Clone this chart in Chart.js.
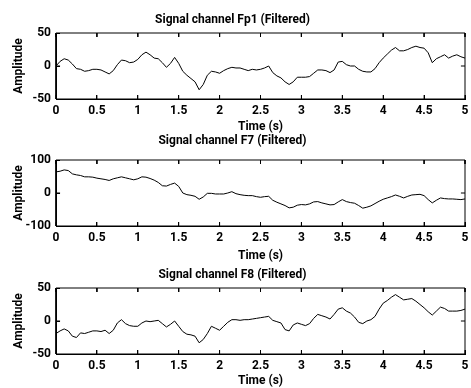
<!DOCTYPE html>
<html lang="en">

<head>
    <meta charset="UTF-8">
    <title>Signal channels (Filtered)</title>
    <script src="https://cdn.jsdelivr.net/npm/chart.js@4.4.1/dist/chart.umd.min.js"></script>
    <style>
        html, body { margin: 0; padding: 0; background: #fff; }
        canvas { display: block; }
    </style>
</head>

<body>
    <canvas id="c1" width="471" height="140"></canvas>
    <canvas id="c2" width="471" height="140" style="margin-top:-13px"></canvas>
    <canvas id="c3" width="471" height="133" style="margin-top:-12px"></canvas>
    <script>
        // time axis (s), one sample every 0.05 s
        const time = [0, 0.05, 0.1, 0.15, 0.2, 0.25, 0.3, 0.35, 0.4, 0.45,
            0.5, 0.55, 0.6, 0.65, 0.7, 0.75, 0.8, 0.85, 0.9, 0.95,
            1, 1.05, 1.1, 1.15, 1.2, 1.25, 1.3, 1.35, 1.4, 1.45,
            1.5, 1.55, 1.6, 1.65, 1.7, 1.75, 1.8, 1.85, 1.9, 1.95,
            2, 2.05, 2.1, 2.15, 2.2, 2.25, 2.3, 2.35, 2.4, 2.45,
            2.5, 2.55, 2.6, 2.65, 2.7, 2.75, 2.8, 2.85, 2.9, 2.95,
            3, 3.05, 3.1, 3.15, 3.2, 3.25, 3.3, 3.35, 3.4, 3.45,
            3.5, 3.55, 3.6, 3.65, 3.7, 3.75, 3.8, 3.85, 3.9, 3.95,
            4, 4.05, 4.1, 4.15, 4.2, 4.25, 4.3, 4.35, 4.4, 4.45,
            4.5, 4.55, 4.6, 4.65, 4.7, 4.75, 4.8, 4.85, 4.9, 4.95, 5];

        const fp1 = [0, 7, 11, 9, 3, -4, -5, -8, -7, -5,
            -5, -6, -9, -12, -7, 2, 9, 8, 5, 6,
            10, 17, 21, 17, 12, 11, 5, -2, 4, 13,
            4, -8, -14, -19, -24, -36, -28, -14, -8, -9,
            -11, -7, -4, -2, -3, -3, -5, -7, -5, -6,
            -5, -3, 0, -10, -15, -18, -24, -28, -24, -17,
            -17, -17, -16, -11, -6, -6, -7, -10, -6, 6,
            7, 2, 0, 0, -5, -8, -9, -9, -4, 5,
            12, 18, 24, 28, 23, 23, 25, 28, 30, 28,
            27, 20, 5, 11, 14, 17, 12, 15, 17, 14, 12];

        const f7 = [64, 66, 70, 68, 58, 55, 53, 49, 49, 48,
            45, 43, 41, 38, 43, 46, 49, 46, 43, 40,
            43, 49, 48, 44, 39, 32, 22, 21, 26, 30,
            20, 0, -5, -7, -10, -19, -12, -1, -1, -3,
            -3, -3, 0, 4, -2, -5, -7, -8, -8, -11,
            -13, -11, -10, -22, -28, -33, -38, -45, -43, -37,
            -35, -36, -33, -27, -26, -30, -33, -36, -35, -27,
            -20, -26, -29, -31, -38, -46, -43, -39, -32, -25,
            -19, -15, -11, -6, -10, -15, -10, -6, -5, -4,
            -8, -20, -30, -22, -15, -17, -18, -18, -19, -20, -18];

        const f8 = [-19, -15, -12, -15, -23, -25, -18, -19, -17, -15,
            -15, -16, -14, -19, -14, -3, 2, -4, -7, -8,
            -8, -3, 0, -1, 0, 1, -4, -9, -5, 0,
            -8, -16, -20, -21, -23, -33, -28, -19, -8, -11,
            -14, -8, -2, 2, 2, 1, 2, 2, 3, 4,
            5, 6, 7, 1, -1, -3, -13, -15, -6, -3,
            -5, -7, -4, 4, 10, 8, 6, 3, 10, 18,
            20, 15, 12, 6, -2, -4, 0, 2, 7, 18,
            27, 31, 36, 40, 36, 32, 33, 34, 30, 25,
            20, 14, 9, 15, 21, 19, 15, 15, 15, 16, 18];

        const titles = ['Signal channel Fp1 (Filtered)', 'Signal channel F7 (Filtered)', 'Signal channel F8 (Filtered)'];
        const yLimits = [50, 100, 50];
        const xTicks = [0, 0.5, 1, 1.5, 2, 2.5, 3, 3.5, 4, 4.5, 5];
        const titleTop = [13, 7, 13];       // title of the middle plot sits a bit higher
        const timeLabelPad = [5.8, 3.8, 0]; // puts "Time (s)" at the right height in each canvas

        const fontFamily = 'Roboto, "Liberation Sans", sans-serif';
        const font = size => ({ family: fontFamily, size: size, weight: 'bold', lineHeight: 1.2 });

        const frameGrid = { display: true, drawOnChartArea: false, drawTicks: true, tickLength: -4, color: '#000', lineWidth: 1 };
        const frameBorder = { display: true, color: '#000', width: 1 };

        // box round the axes plus short inward ticks, as a line dataset in data units
        function frameData(lim) {
            const dy = lim * 0.12;   // about 4px of the 66px tall plot
            const dx = 0.05;         // about 4px of the 408px wide plot
            const pts = [
                { x: 0, y: -lim }, { x: 5, y: -lim }, { x: 5, y: lim }, { x: 0, y: lim }, { x: 0, y: -lim },
                { x: 0, y: null }
            ];
            xTicks.forEach(t => {
                pts.push({ x: t, y: -lim }, { x: t, y: -lim + dy }, { x: t, y: null });
                pts.push({ x: t, y: lim }, { x: t, y: lim - dy }, { x: t, y: null });
            });
            pts.push({ x: 0, y: 0 }, { x: dx, y: 0 }, { x: dx, y: null });
            pts.push({ x: 5, y: 0 }, { x: 5 - dx, y: 0 });
            return pts;
        }

        function makeChart(id, title, values, lim, padTop, padTime) {
            const canvas = document.getElementById(id);
            const points = time.map((t, i) => ({ x: t, y: values[i] }));
            return new Chart(canvas, {
                type: 'line',
                data: {
                    datasets: [{
                        data: points,
                        borderColor: '#000',
                        borderWidth: 1,
                        pointRadius: 0,
                        tension: 0
                    }, {
                        data: frameData(lim),
                        borderColor: '#000',
                        borderWidth: 1,
                        pointRadius: 0,
                        spanGaps: false,
                        clip: false
                    }]
                },
                options: {
                    responsive: false,
                    animation: false,
                    layout: { padding: { left: 0, right: 6, top: 0, bottom: 0 } },
                    plugins: {
                        legend: { display: false },
                        tooltip: { enabled: false },
                        title: {
                            display: true,
                            text: title,
                            color: '#000',
                            font: font(12),
                            padding: { top: padTop, bottom: 33 - 14.4 - padTop }
                        }
                    },
                    scales: {
                        x: {
                            type: 'linear',
                            position: 'bottom',
                            min: 0,
                            max: 5,
                            grid: frameGrid,
                            border: frameBorder,
                            ticks: {
                                stepSize: 0.5,
                                color: '#000',
                                padding: 9,
                                maxRotation: 0,
                                autoSkip: false,
                                font: font(12),
                                callback: v => String(v)
                            },
                            title: {
                                display: true,
                                text: 'Time (s)',
                                color: '#000',
                                font: font(12),
                                padding: { top: 0, bottom: padTime }
                            },
                            afterFit(scale) {
                                scale.height = canvas.height - 99;
                                scale.paddingLeft = 0;
                                scale.paddingRight = 0;
                            }
                        },
                        y: {
                            position: 'left',
                            min: -lim,
                            max: lim,
                            grid: frameGrid,
                            border: frameBorder,
                            ticks: {
                                stepSize: lim,
                                color: '#000',
                                padding: 9,
                                font: font(12),
                                callback: v => String(v)
                            },
                            title: {
                                display: true,
                                text: 'Amplitude',
                                color: '#000',
                                font: font(12),
                                padding: { top: 12, bottom: 0 }
                            },
                            afterFit(scale) {
                                scale.width = 56;
                                scale.paddingTop = 0;
                                scale.paddingBottom = 0;
                            }
                        }
                    }
                }
            });
        }

        makeChart('c1', titles[0], fp1, yLimits[0], titleTop[0], timeLabelPad[0]);
        makeChart('c2', titles[1], f7, yLimits[1], titleTop[1], timeLabelPad[1]);
        makeChart('c3', titles[2], f8, yLimits[2], titleTop[2], timeLabelPad[2]);
    </script>
</body>

</html>
